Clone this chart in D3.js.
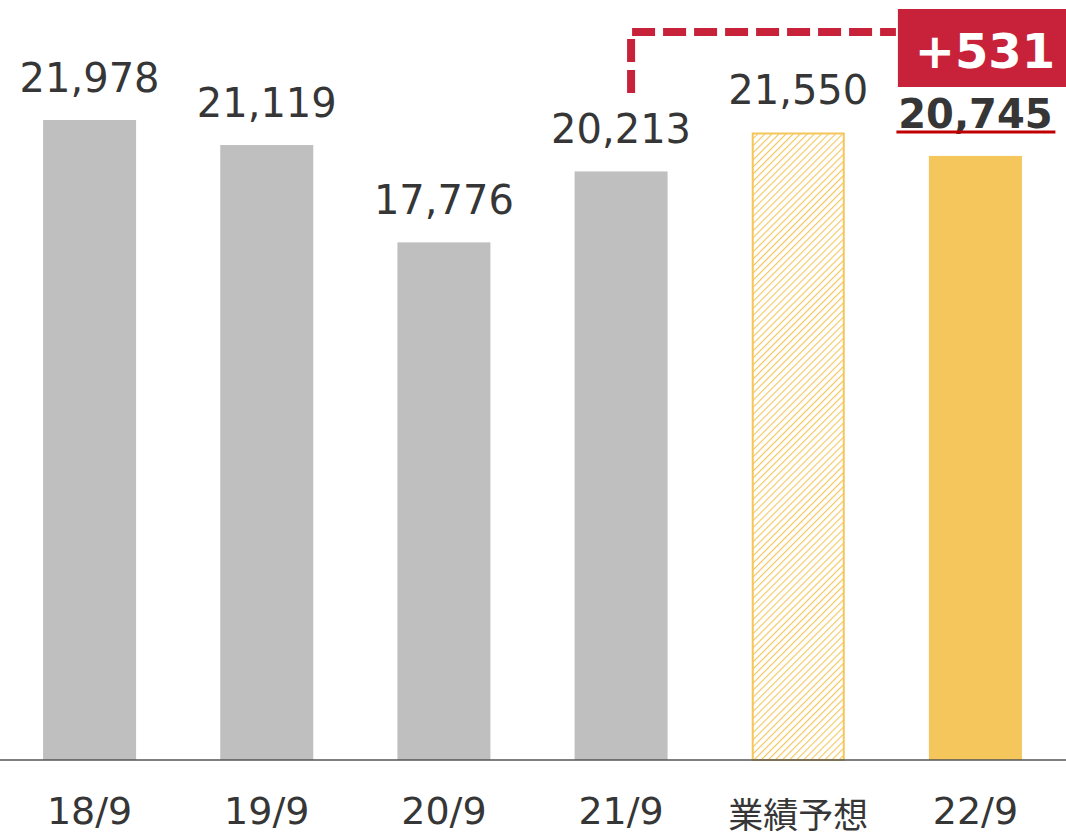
<!DOCTYPE html>
<html>
<head>
<meta charset="utf-8">
<script src="https://cdn.jsdelivr.net/npm/d3@7"></script>
<style>
    html, body { margin: 0; padding: 0; background: #fff; }
    svg { display: block; font-family: 'DejaVu Sans', Verdana, sans-serif; }
</style>
</head>
<body>
<div id="chart"></div>
<script>
const categories = ['18/9', '19/9', '20/9', '21/9', '業績予想', '22/9'];
const values = [21978, 21119, 17776, 20213, 21550, 20745];
const valueLabels = ['21,978', '21,119', '17,776', '20,213', '21,550', '20,745'];
const barKinds = ['past', 'past', 'past', 'past', 'forecast', 'current'];
const diffLabel = '+531';

const width = 1066;
const height = 834;
const baseY = 760;

const grey = '#bfbfbf';
const yellow = '#f4c65b';
const red = '#c8223a';
const textColor = '#363636';

const svg = d3.select('#chart')
    .append('svg')
    .attr('width', width)
    .attr('height', height);

const defs = svg.append('defs');
const pattern = defs.append('pattern')
    .attr('id', 'hatch')
    .attr('patternUnits', 'userSpaceOnUse')
    .attr('width', 5)
    .attr('height', 5)
    .attr('patternTransform', 'rotate(45)');
pattern.append('rect')
    .attr('width', 5).attr('height', 5).attr('fill', '#fff');
pattern.append('line')
    .attr('x1', 0).attr('y1', 0).attr('x2', 0).attr('y2', 5)
    .attr('stroke', yellow)
    .attr('stroke-width', 2.2);

const x = d3.scaleBand()
    .domain(categories)
    .range([1, 1064])
    .paddingInner(0.475)
    .paddingOuter(0.2375);

const y = d3.scaleLinear()
    .domain([0, 26100])
    .range([baseY, 0]);

const data = categories.map((c, i) => ({ cat: c, value: values[i], label: valueLabels[i], kind: barKinds[i] }));

// bars
svg.append('g')
    .selectAll('rect')
    .data(data)
    .enter()
    .append('rect')
    .attr('x', d => d.kind === 'forecast' ? x(d.cat) + 1 : x(d.cat))
    .attr('y', d => d.kind === 'forecast' ? y(d.value) + 1 : y(d.value))
    .attr('width', d => d.kind === 'forecast' ? x.bandwidth() - 2 : x.bandwidth())
    .attr('height', d => d.kind === 'forecast' ? baseY - y(d.value) - 1 : baseY - y(d.value))
    .attr('fill', d => d.kind === 'past' ? grey : (d.kind === 'forecast' ? 'url(#hatch)' : yellow))
    .attr('stroke', d => d.kind === 'forecast' ? yellow : 'none')
    .attr('stroke-width', 2);

// baseline axis
const axis = svg.append('g')
    .attr('transform', `translate(0,${baseY})`)
    .call(d3.axisBottom(x).tickSize(0).tickPadding(0));
axis.select('.domain').remove();
axis.append('line')
    .attr('x1', 0).attr('x2', width)
    .attr('y1', 0).attr('y2', 0)
    .attr('stroke', '#555')
    .attr('stroke-width', 1.5);
axis.selectAll('.tick text')
    .attr('y', d => d === '業績予想' ? 68 : 64)
    .attr('dy', null)
    .attr('fill', textColor)
    .style('font-size', d => d === '業績予想' ? '35px' : '38px')
    .style('font-family', d => d === '業績予想' ? "'Noto Sans CJK JP', sans-serif" : "'DejaVu Sans', sans-serif");

// value labels
svg.append('g')
    .selectAll('text')
    .data(data)
    .enter()
    .append('text')
    .attr('x', d => x(d.cat) + x.bandwidth() / 2)
    .attr('y', d => y(d.value) - 28)
    .attr('text-anchor', 'middle')
    .attr('fill', textColor)
    .style('font-size', '40px')
    .style('font-weight', d => d.kind === 'current' ? 'bold' : 'normal')
    .text(d => d.label);

// underline under the current value
const cur = data[data.length - 1];
const cx = x(cur.cat) + x.bandwidth() / 2;
svg.append('line')
    .attr('x1', cx - 79).attr('x2', cx + 80)
    .attr('y1', y(cur.value) - 24).attr('y2', y(cur.value) - 24)
    .attr('stroke', '#c00000')
    .attr('stroke-width', 3);

// dashed connector from 21/9 to the difference box
const prevX = x('21/9') + x.bandwidth() / 2 + 10;
const boxLeft = x('22/9') - 31;
svg.append('path')
    .attr('d', `M${prevX},93 V32 H${boxLeft - 2}`)
    .attr('fill', 'none')
    .attr('stroke', red)
    .attr('stroke-width', 8)
    .attr('stroke-dasharray', '23,8');

svg.append('rect')
    .attr('x', boxLeft)
    .attr('y', 9)
    .attr('width', width - boxLeft)
    .attr('height', 78)
    .attr('fill', red);

svg.append('text')
    .attr('x', (boxLeft + width) / 2 + 3)
    .attr('y', 68)
    .attr('text-anchor', 'middle')
    .attr('fill', '#fff')
    .style('font-size', '48px')
    .style('font-weight', 'bold')
    .text(diffLabel);
</script>
</body>
</html>
